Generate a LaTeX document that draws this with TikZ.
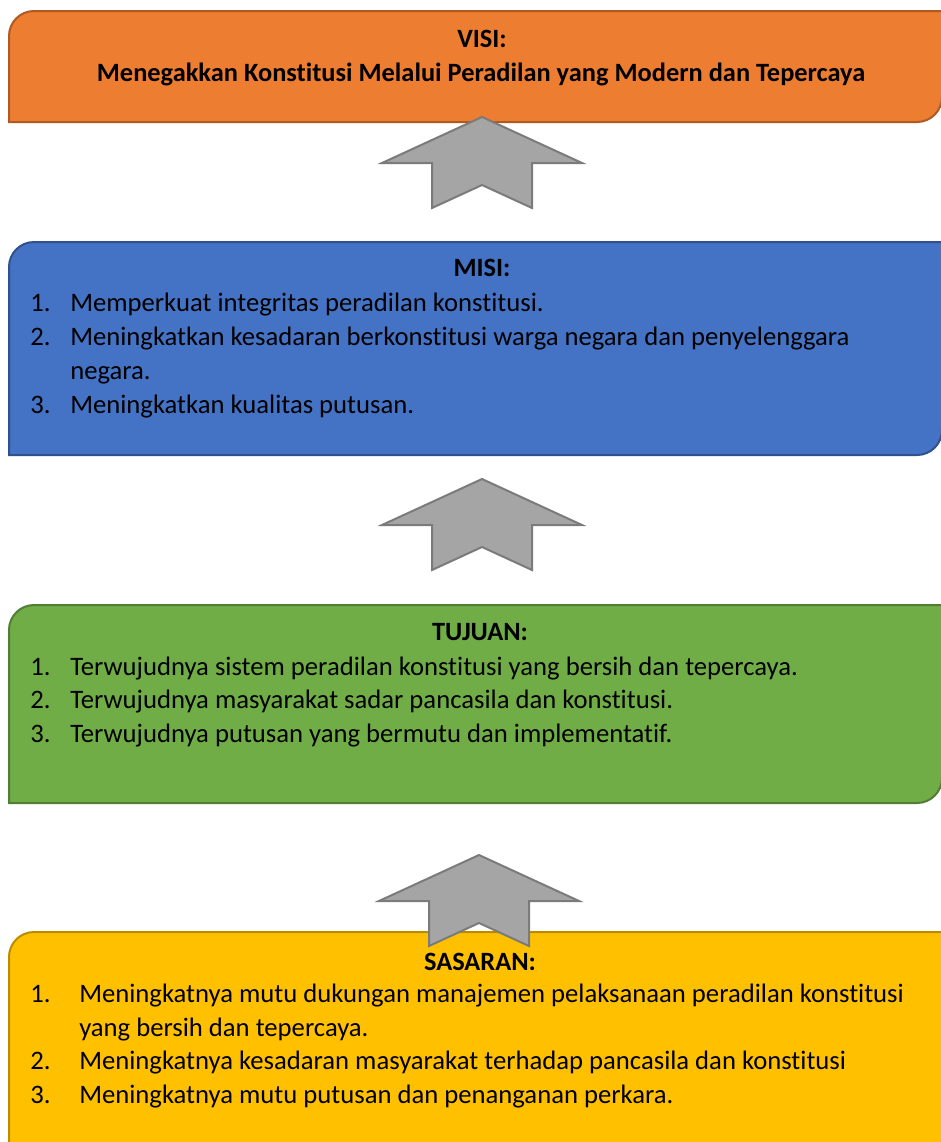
\documentclass[tikz,border=0pt]{standalone}
\usepackage{fontspec}
\setmainfont[Ligatures=NoCommon]{Carlito}

\definecolor{visifill}{HTML}{ED7D31}
\definecolor{visiedge}{HTML}{AE5A21}
\definecolor{misifill}{HTML}{4472C4}
\definecolor{misiedge}{HTML}{2F528F}
\definecolor{tujuanfill}{HTML}{70AD47}
\definecolor{tujuanedge}{HTML}{507E32}
\definecolor{sasaranfill}{HTML}{FFC000}
\definecolor{sasaranedge}{HTML}{BC8C00}
\definecolor{arrowfill}{HTML}{A5A5A5}
\definecolor{arrowedge}{HTML}{7B7B7B}

\tikzset{
	panel/.style={line width=1.5pt},
	uparrow/.style={fill=arrowfill, draw=arrowedge, line width=1.5pt, line join=miter},
	head/.style={font=\bfseries\fontsize{19.8}{24}\selectfont, anchor=base, inner sep=0pt},
	item/.style={font=\fontsize{20}{24}\selectfont, anchor=base west, inner sep=0pt},
}

\begin{document}
\begin{tikzpicture}[x=0.75pt, y=-0.75pt]
	\clip (0,0) rectangle (941,1142);

	% the four panels: round top left and bottom right corners
	\draw[panel, fill=visifill, draw=visiedge] (9,122) -- (9,36)
		arc[start angle=180, end angle=90, radius=18.75pt] -- (942,11)
		-- (942,97) arc[start angle=0, end angle=-90, radius=18.75pt] -- cycle;
	\draw[panel, fill=misifill, draw=misiedge] (9,455) -- (9,267)
		arc[start angle=180, end angle=90, radius=18.75pt] -- (942,242)
		-- (942,430) arc[start angle=0, end angle=-90, radius=18.75pt] -- cycle;
	\draw[panel, fill=tujuanfill, draw=tujuanedge] (9,803) -- (9,630)
		arc[start angle=180, end angle=90, radius=18.75pt] -- (942,605)
		-- (942,778) arc[start angle=0, end angle=-90, radius=18.75pt] -- cycle;
	\draw[panel, fill=sasaranfill, draw=sasaranedge] (9,1170) -- (9,957)
		arc[start angle=180, end angle=90, radius=18.75pt] -- (942,932)
		-- (942,1145) arc[start angle=0, end angle=-90, radius=18.75pt] -- cycle;

	% block arrows pointing up
	\draw[uparrow, shift={(482,117)}] (0,0) -- (100,46) -- (50,46) -- (50,91)
		-- (0,68) -- (-50,91) -- (-50,46) -- (-100,46) -- cycle;
	\draw[uparrow, shift={(482,479)}] (0,0) -- (100,46) -- (50,46) -- (50,91)
		-- (0,68) -- (-50,91) -- (-50,46) -- (-100,46) -- cycle;
	\draw[uparrow, shift={(479,855)}] (0,0) -- (100,46) -- (50,46) -- (50,91)
		-- (0,68) -- (-50,91) -- (-50,46) -- (-100,46) -- cycle;

	% visi
	\node[head] (visi-title) at (482,47) {VISI:};
	\node[head] (visi-text) at (481,81) {Menegakkan Konstitusi Melalui Peradilan yang Modern dan Tepercaya};

	% misi
	\node[head] (misi-title) at (482,276) {MISI:};
	\node[item] (misi-n1) at (30,311) {1.};
	\node[item] (misi-1) at (70,311) {Memperkuat integritas peradilan konstitusi.};
	\node[item] (misi-n2) at (30,345) {2.};
	\node[item] (misi-2) at (70,345) {Meningkatkan kesadaran berkonstitusi warga negara dan penyelenggara};
	\node[item] (misi-2b) at (70,379) {negara.};
	\node[item] (misi-n3) at (30,413) {3.};
	\node[item] (misi-3) at (70,413) {Meningkatkan kualitas putusan.};

	% tujuan
	\node[head] (tujuan-title) at (480,640) {TUJUAN:};
	\node[item] (tujuan-n1) at (30,675) {1.};
	\node[item] (tujuan-1) at (70,675) {Terwujudnya sistem peradilan konstitusi yang bersih dan tepercaya.};
	\node[item] (tujuan-n2) at (30,708) {2.};
	\node[item] (tujuan-2) at (70,708) {Terwujudnya masyarakat sadar pancasila dan konstitusi.};
	\node[item] (tujuan-n3) at (30,742) {3.};
	\node[item] (tujuan-3) at (70,742) {Terwujudnya putusan yang bermutu dan implementatif.};

	% sasaran
	\node[head] (sasaran-title) at (480,970) {SASARAN:};
	\node[item] (sasaran-n1) at (30,1002) {1.};
	\node[item] (sasaran-1) at (79,1002) {Meningkatnya mutu dukungan manajemen pelaksanaan peradilan konstitusi};
	\node[item] (sasaran-1b) at (79,1036) {yang bersih dan tepercaya.};
	\node[item] (sasaran-n2) at (30,1069) {2.};
	\node[item] (sasaran-2) at (79,1069) {Meningkatnya kesadaran masyarakat terhadap pancasila dan konstitusi};
	\node[item] (sasaran-n3) at (30,1103) {3.};
	\node[item] (sasaran-3) at (79,1103) {Meningkatnya mutu putusan dan penanganan perkara.};
\end{tikzpicture}
\end{document}
